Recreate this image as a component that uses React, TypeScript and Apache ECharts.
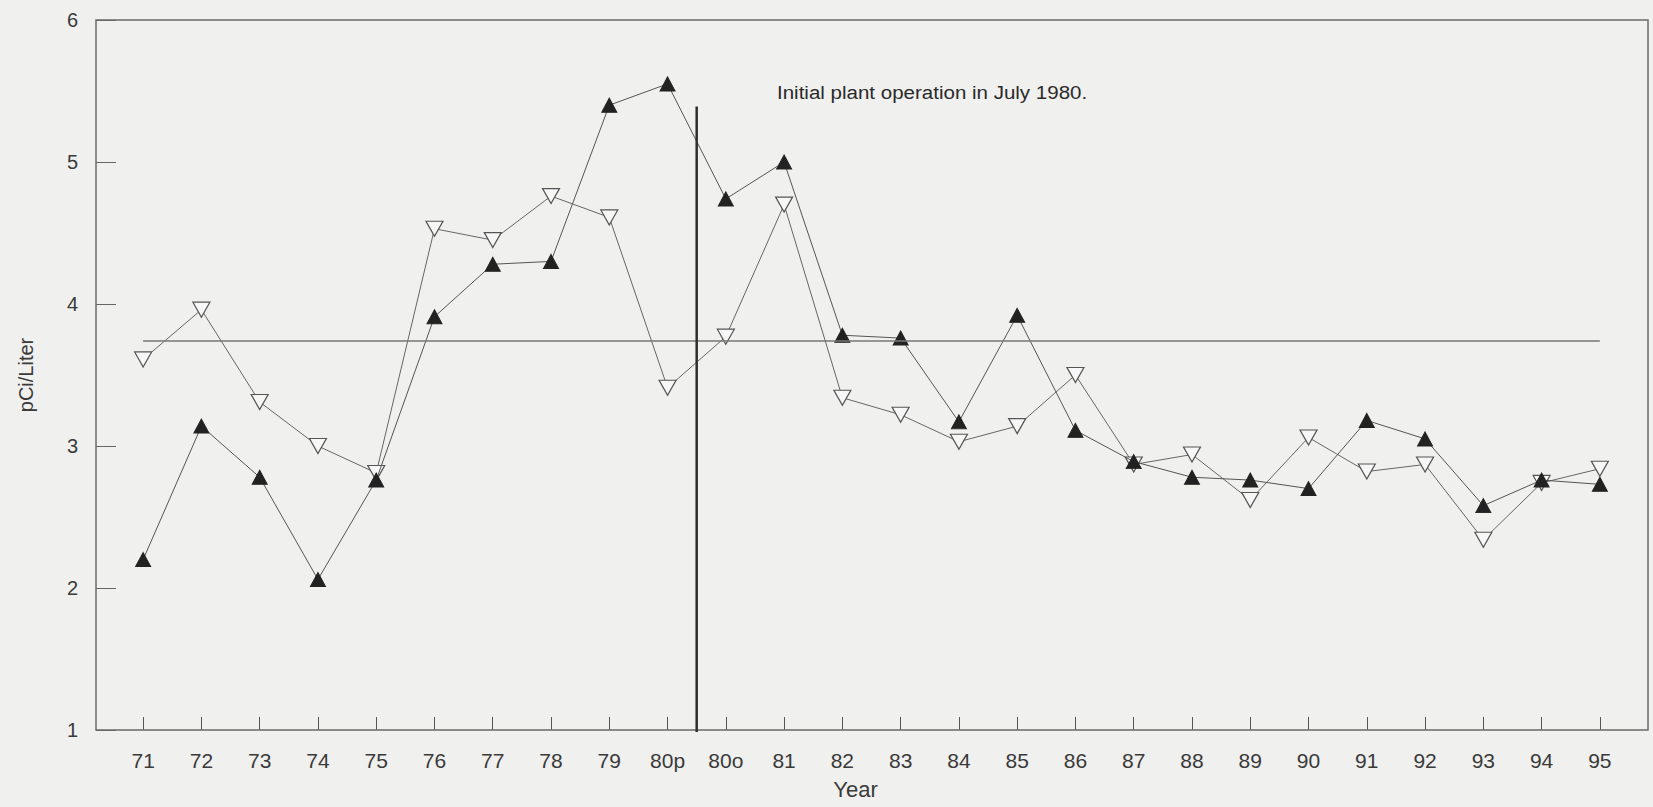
import React, { useEffect, useRef } from "react";
import * as echarts from "echarts";

const categories = ["71", "72", "73", "74", "75", "76", "77", "78", "79", "80p", "80o", "81", "82", "83", "84", "85", "86", "87", "88", "89", "90", "91", "92", "93", "94", "95"];
const filledSeries = [2.2, 3.14, 2.78, 2.06, 2.76, 3.91, 4.28, 4.3, 5.4, 5.55, 4.74, 5.0, 3.78, 3.76, 3.17, 3.92, 3.11, 2.89, 2.78, 2.76, 2.7, 3.18, 3.05, 2.58, 2.76, 2.73];
const openSeries = [3.61, 3.96, 3.31, 3.0, 2.81, 4.53, 4.45, 4.76, 4.61, 3.41, 3.77, 4.7, 3.34, 3.22, 3.03, 3.14, 3.5, 2.87, 2.94, 2.62, 3.06, 2.82, 2.87, 2.34, 2.74, 2.84];
const meanValue = 3.74;
const yTicks = [1, 2, 3, 4, 5, 6];
const operationStart = { before: "80p", after: "80o", top: 5.39 };
const annotationText = "Initial plant operation in July 1980.";

const FONT = "'Liberation Sans', Arial, sans-serif";

export default function App() {
  const ref = useRef<HTMLDivElement>(null);
  useEffect(() => {
    if (!ref.current) return;
    const chart = echarts.init(ref.current, null, { renderer: "svg" });
    const option: any = {
      animation: false,
      backgroundColor: "#f0f0ef",
      grid: { left: 114, right: 24, top: 20, bottom: 77 },
      xAxis: {
        type: "category",
        data: categories,
        boundaryGap: true,
        axisLine: { show: false },
        axisTick: { show: true, inside: true, alignWithLabel: true, length: 13, lineStyle: { color: "#555", width: 1 } },
        axisLabel: { color: "#3a3a3a", fontSize: 21, fontFamily: FONT, margin: 20, interval: 0 },
        splitLine: { show: false },
        name: "Year",
        nameLocation: "middle",
        nameGap: 48,
        nameTextStyle: { color: "#3a3a3a", fontSize: 22, fontFamily: FONT, padding: [0, 32, 0, 0] },
      },
      yAxis: {
        type: "value",
        min: yTicks[0],
        max: yTicks[yTicks.length - 1],
        interval: 1,
        offset: 18,
        axisLine: { show: false },
        axisTick: { show: true, inside: true, length: 20, lineStyle: { color: "#666", width: 1 } },
        axisLabel: { color: "#3a3a3a", fontSize: 20, fontFamily: FONT, margin: 18 },
        splitLine: { show: false },
        name: "pCi/Liter",
        nameLocation: "middle",
        nameRotate: 90,
        nameGap: 60,
        nameTextStyle: { color: "#3a3a3a", fontSize: 20, fontFamily: FONT },
      },
      series: [
        {
          name: "mean",
          type: "line",
          data: [],
          silent: true,
          markLine: {
            silent: true,
            symbol: "none",
            label: { show: false },
            lineStyle: { color: "#777", width: 1.5, type: "solid" },
            data: [[{ coord: [categories[0], meanValue] }, { coord: [categories[categories.length - 1], meanValue] }]],
          },
        },
        {
          name: "open",
          type: "line",
          data: openSeries,
          symbol: "triangle",
          symbolRotate: 180,
          symbolSize: [17, 15],
          lineStyle: { color: "#666", width: 1 },
          itemStyle: { color: "#f7f7f7", borderColor: "#555", borderWidth: 1.2 },
          z: 3,
        },
        {
          name: "filled",
          type: "line",
          data: filledSeries,
          symbol: "triangle",
          symbolSize: [15, 14],
          lineStyle: { color: "#555", width: 1 },
          itemStyle: { color: "#222", borderColor: "#222", borderWidth: 1 },
          z: 4,
        },
      ],
    };
    chart.setOption(option);

    const xa = chart.convertToPixel({ xAxisIndex: 0 }, operationStart.before) as number;
    const xb = chart.convertToPixel({ xAxisIndex: 0 }, operationStart.after) as number;
    const yTop = chart.convertToPixel({ yAxisIndex: 0 }, operationStart.top) as number;
    const yBottom = chart.convertToPixel({ yAxisIndex: 0 }, yTicks[0]) as number;
    const yMax = chart.convertToPixel({ yAxisIndex: 0 }, yTicks[yTicks.length - 1]) as number;
    const xv = (xa + xb) / 2;

    chart.setOption({
      graphic: [
        {
          type: "rect",
          shape: { x: 96, y: yMax, width: 1552, height: yBottom - yMax },
          style: { fill: "none", stroke: "#6a6a6a", lineWidth: 1.5 },
          silent: true,
          z: 1,
        },
        {
          type: "line",
          shape: { x1: xv, y1: yTop, x2: xv, y2: yBottom + 2 },
          style: { stroke: "#2e2e2e", lineWidth: 2.5 },
          silent: true,
          z: 5,
        },
        {
          type: "text",
          x: 777,
          y: 92,
          scaleX: 1.08,
          style: { text: annotationText, fill: "#2a2a2a", font: `19px ${FONT}`, textAlign: "left", textVerticalAlign: "middle" },
          silent: true,
          z: 5,
        },
      ],
    });

    return () => chart.dispose();
  }, []);
  return <div ref={ref} style={{ position: "fixed", left: 0, top: 0, width: 1653, height: 807 }} />;
}
